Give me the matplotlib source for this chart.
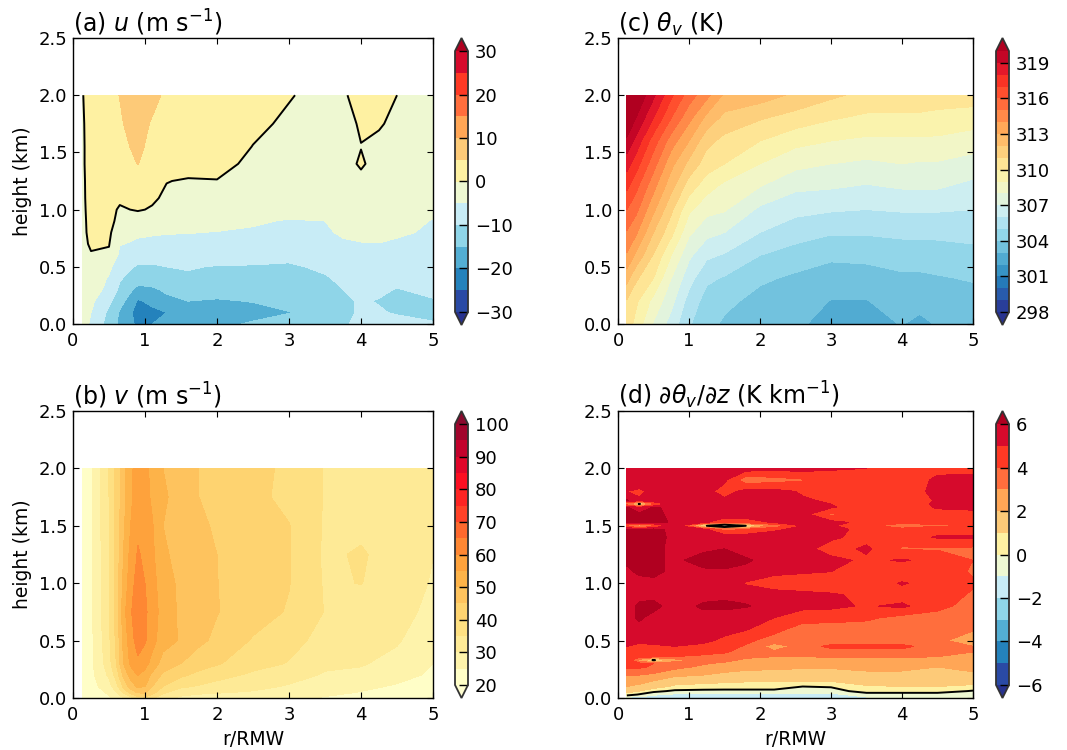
import numpy as np
import matplotlib
matplotlib.use("Agg")
import matplotlib.pyplot as plt
from matplotlib.colors import LinearSegmentedColormap

plt.rcParams.update({
    "font.family": "DejaVu Sans",
    "font.size": 13,
    "axes.linewidth": 1.0,
    "xtick.direction": "in", "ytick.direction": "in",
    "xtick.top": True, "ytick.right": True,
    "xtick.major.size": 4.5, "ytick.major.size": 4.5,
    "xtick.major.pad": 6, "ytick.major.pad": 4,
})

W, H = 1067, 750

# band colours, bottom to top
DIVERGING = ["#2a4aa5", "#2482bc", "#54aed3", "#8fd5e8", "#c8ecf6", "#eef8d2",
             "#fef1a2", "#fdcb78", "#ffa656", "#ff6f3d", "#ff3a24", "#d70a2c"]
SEQUENTIAL = ["#fffec7", "#fef3ab", "#feea96", "#fee082", "#fed370", "#fec35e", "#fdb349", "#fea23c",
              "#fe8733", "#fe6a2e", "#ff4327", "#fe2523", "#fd0f22", "#e2062a", "#c4022c", "#a3042c"]


def band_cmap(name, bands, low, high):
    n = len(bands)
    stops = [(0.0, low)] + [((i + 0.5) / n, c) for i, c in enumerate(bands)] + [(1.0, high)]
    return LinearSegmentedColormap.from_list(name, stops, N=512)


CMAP_DIV = band_cmap("div", DIVERGING, "#27328f", "#b00020")
CMAP_SEQ = band_cmap("seq", SEQUENTIAL, "#fffed0", "#8a0a2e")

# panel a, radial wind
U_R = [0.125, 0.25, 0.5, 0.65, 0.9, 1.1, 1.3, 1.6, 2, 2.5, 3, 3.5, 3.75, 4, 4.25, 4.5, 5]
U_Z = [0, 0.1, 0.2, 0.3, 0.4, 0.5, 0.6, 0.7, 0.8, 0.9, 1, 1.1, 1.25, 1.4, 1.55, 1.75, 2]
U = [
    [-2, -6, -12, -16, -21, -20, -17, -16.5, -16, -14.5, -12.5, -11, -10.5, -9, -8, -8, -9.5],
    [-1, -5, -11, -15.5, -22, -21, -20, -16, -17, -16.5, -15.2, -12.5, -11, -9.5, -9.5, -10.5, -11.5],
    [-1, -4, -9, -13, -20.5, -19, -16.5, -15, -15.5, -14.8, -13, -11.5, -10.8, -9.5, -10.3, -11, -10.5],
    [-1, -2.5, -6.5, -11, -16.5, -16, -14, -13, -13, -12.8, -12, -11, -10, -8.5, -9, -10.3, -8.5],
    [-1, -1.5, -5.5, -9.5, -12.5, -12, -11.5, -10.8, -11, -11.3, -11.5, -10.5, -9, -7.5, -7.5, -8, -7],
    [-0.8, -1, -4, -7.5, -10.7, -10.8, -10, -9.6, -10.3, -10.4, -10.8, -9, -8, -6.5, -6.5, -7, -6],
    [-1, -0.3, -0.6, -6, -7.5, -7.5, -7.5, -7.5, -7.5, -8, -8.5, -7.5, -6.5, -6, -6, -6, -5.5],
    [-1, 0.5, 0.2, -4.8, -5.5, -5.7, -6, -6, -6.3, -6.5, -7, -6.5, -5.5, -5.2, -5.1, -5.5, -6],
    [-1, 1, 0.5, -2, -4.5, -4.7, -4.8, -4.9, -5.1, -5.5, -6, -5.5, -4.5, -4, -4, -4.5, -5.5],
    [-1, 1.2, 1, -1, -2, -2.5, -3, -3.5, -4, -4.5, -5.3, -5, -3.5, -3, -3, -3.5, -5.2],
    [-1, 1.5, 1, -0.4, 0.3, -0.3, -1, -2, -2.5, -3, -3.5, -3.5, -2.5, -2.5, -2.5, -3, -4],
    [-1, 1.8, 1.5, 0.6, 1.5, 0.5, -0.6, -1.2, -1.5, -2, -2.5, -2.5, -2, -2, -2, -2.5, -3.5],
    [-1, 2, 2, 2, 2.5, 1.5, 0.1, -0.3, -0.1, -1.5, -2, -2, -1.5, -1, -1.5, -2, -3],
    [-1, 2.5, 3, 3, 5.1, 3.5, 1.5, 1.5, 1, -0.7, -1.5, -2, -1.5, 0.5, -1.5, -2, -3],
    [-1, 2.5, 3.5, 4, 5.8, 4, 3.5, 3, 2.5, -0.1, -1.2, -1.8, -1.2, -0.1, -1, -1.8, -2.8],
    [-1, 3, 4, 4.5, 7, 4.5, 4, 3.5, 3, 1, -0.8, -1.8, -1.5, 0.5, 0.4, -1, -2.5],
    [-0.5, 3, 4, 5.1, 8, 6.5, 4, 3.5, 3, 2, 0.3, -1.5, -0.5, 1.5, 2, 0, -2],
]
U_LEVELS = list(range(-30, 31, 5))
U_TICKS = list(range(-30, 31, 10))

# panel b, tangential wind
V_R = [0.125, 0.25, 0.35, 0.5, 0.6, 0.7, 0.8, 0.9, 1, 1.1, 1.25, 1.5, 1.75, 2, 2.5, 3, 3.5, 4, 4.5, 5]
V_Z = [0, 0.05, 0.1, 0.2, 0.3, 0.5, 0.75, 1, 1.25, 1.5, 1.75, 2]
V = [
    [20, 21, 22, 24, 27, 30, 33, 38, 39, 36, 32, 29, 28, 27.5, 27, 26, 24.5, 23.5, 23, 22.5],
    [20.5, 22, 23.5, 26, 30, 36, 42, 46, 46, 42, 36, 32, 31, 30.5, 29.5, 28, 26.5, 24.8, 24, 23],
    [21, 23, 25, 28, 33, 41, 47, 51, 50, 45, 40, 36, 34.5, 33, 31.5, 29.5, 27.5, 26, 24.5, 23.5],
    [21, 24, 26, 31, 37, 46, 52, 55.3, 53, 49, 44, 41, 38.5, 37, 34, 32, 29.5, 29, 26.5, 24.3],
    [21, 24, 27, 33, 40, 50, 56, 59, 57, 53, 48, 45, 42.5, 40.5, 37, 34.7, 31, 30.4, 28.5, 25],
    [21, 24, 27.5, 34, 41, 51, 58, 62, 60.5, 57, 52, 49.5, 46, 44, 39.5, 36.5, 33.5, 31.8, 30.5, 26.5],
    [21, 24, 28, 35, 42, 53, 59.5, 63, 61, 57.5, 53, 49, 46.5, 45.2, 42.5, 39.5, 34.8, 33.3, 32, 28.5],
    [21, 24, 28, 35, 42, 51, 58, 62, 60, 57, 52, 49, 46.5, 45.1, 42, 40.2, 34.5, 35.1, 33, 29.5],
    [21, 24, 28, 35, 41.5, 50, 56.5, 60.5, 59, 56, 51, 48, 46, 45, 42, 40.3, 34.2, 35.5, 33, 30.1],
    [21, 24, 28.5, 35, 41.5, 49, 55, 59, 58, 55.5, 50, 47.5, 45.7, 44.5, 41.8, 40.2, 34.5, 34, 33, 32.5],
    [21, 24, 28.5, 35, 41, 48, 54, 57.5, 57, 54, 51, 47.5, 45, 44, 41.5, 38.5, 34.7, 33.5, 33, 32.5],
    [21, 24, 28.7, 35.5, 41, 48.5, 54, 57, 56, 54, 50, 47.5, 45, 44, 41.5, 39, 34.7, 33, 32.5, 32],
]
V_LEVELS = list(range(20, 101, 5))
V_TICKS = list(range(20, 101, 10))

# panel c, virtual potential temperature
T_R = [0.125, 0.25, 0.5, 0.75, 1, 1.25, 1.5, 2, 2.5, 3, 3.5, 4, 4.25, 4.5, 5]
T_Z = [0, 0.2, 0.4, 0.6, 0.8, 1, 1.2, 1.4, 1.6, 1.8, 2]
THETA = [
    [310.6, 309.7, 307.9, 306.6, 305.1, 304.4, 303.8, 303.4, 303.2, 302.6, 302.6, 303.05, 302.7, 303.1, 303.4],
    [310.9, 310.2, 308.7, 307.3, 305.6, 304.6, 304.3, 303.6, 303.4, 302.97, 302.97, 303.35, 303.4, 303.45, 303.55],
    [312.4, 311.2, 310, 308, 306.4, 305.2, 304.9, 304.2, 303.8, 303.5, 303.5, 303.8, 303.8, 303.9, 304.1],
    [313.9, 312.8, 310.9, 309, 307.2, 306.2, 305.9, 305, 304.6, 304.2, 304.3, 304.5, 304.5, 304.6, 304.7],
    [314.9, 314.2, 312, 310.3, 308.2, 307.3, 307, 306, 305.4, 305.1, 305.1, 305.2, 305.2, 305.2, 305.3],
    [316, 315.3, 313.2, 311.2, 309.2, 308.3, 308.1, 306.8, 306.3, 306.1, 306, 306.1, 306.1, 306.1, 306],
    [317.2, 316.3, 314.3, 312.3, 310.5, 309.4, 308.7, 308, 307.2, 307.1, 306.9, 307.1, 307.1, 307.1, 306.7],
    [318.4, 317.5, 315.4, 313.3, 311.7, 310.5, 310, 309, 308.3, 308, 307.8, 308, 307.9, 307.9, 307.6],
    [319.8, 318.7, 316.5, 314.5, 313, 311.3, 310.7, 310, 309.3, 309, 308.8, 308.8, 308.8, 308.8, 308.5],
    [321, 320, 318, 316, 314.3, 312.7, 311.7, 311.1, 310.6, 310.1, 309.8, 309.8, 309.8, 309.7, 309.5],
    [322, 321, 319.2, 317.2, 315.5, 314.3, 312.8, 312.5, 311.8, 311.2, 310.7, 310.6, 310.6, 310.5, 310.5],
]
T_LEVELS = list(range(298, 321))
T_TICKS = list(range(298, 320, 3))

# panel d, vertical gradient of theta_v
D_R = [0.125, 0.3, 0.5, 0.8, 1.2, 1.5, 1.8, 2.2, 2.6, 3, 3.5, 4, 4.5, 5]
D_Z = [0, 0.03, 0.06, 0.1, 0.15, 0.2, 0.27, 0.3, 0.33, 0.36, 0.4, 0.45, 0.5, 0.6, 0.7, 0.8, 0.9, 1, 1.1,
       1.2, 1.3, 1.4, 1.47, 1.5, 1.53, 1.6, 1.66, 1.69, 1.72, 1.8, 1.9, 2]
DTHETA = [
    [-1.5, -1.5, -1.8, -1.5, -1.5, -1.5, -1.5, -1.5, -1.5, -1.5, -1.2, -0.8, -0.8, -0.5],
    [0.5, -0.1, -0.8, -1.2, -1.5, -1.5, -1.5, -1.5, -1.3, -1.3, -0.5, -0.5, -0.5, -0.3],
    [1.5, 1, 0.3, -0.2, -0.3, -0.3, -0.3, -0.3, -0.5, -0.5, 0.5, 0.5, 0.5, -0.1],
    [2, 1.8, 1.5, 0.8, 0.7, 0.6, 0.6, 0.6, 0, 0.1, 0.9, 1, 1, 0.8],
    [2.5, 2.3, 2, 1.5, 1.3, 1.2, 1.1, 1.1, 1.1, 1.1, 1.4, 1.4, 1.4, 1.4],
    [3.1, 3, 2.8, 2.2, 2, 1.8, 1.6, 1.6, 1.6, 1.6, 1.8, 1.9, 1.9, 1.8],
    [4.2, 4.2, 3.8, 3.3, 2.8, 2.4, 2.3, 2.2, 2.1, 2.1, 2.2, 2.1, 2, 2.3],
    [4.5, 4.3, 4, 3.5, 3.1, 2.8, 2.5, 2.4, 2.3, 2.4, 2.7, 2.6, 2.3, 2.4],
    [4.6, 2.5, -0.2, 2.5, 3.4, 3.3, 2.8, 2.6, 2.5, 2.6, 2.8, 2.8, 2.5, 2.4],
    [4.7, 4.6, 4.3, 4, 3.8, 3.6, 3.2, 3, 3, 3.1, 3.1, 3.1, 3, 2.8],
    [4.8, 4.7, 4.6, 4.5, 4.3, 4.1, 3.6, 3.2, 3.2, 3.5, 3.6, 3.6, 3.3, 3],
    [5, 4.9, 4.9, 5, 4.8, 4.4, 3.9, 2.5, 3.4, 4.3, 4.3, 4.3, 3.4, 3],
    [5.2, 5.1, 5.2, 5.4, 5.2, 4.8, 4.2, 3.6, 3.4, 3.3, 3.3, 3.3, 3.2, 2.5],
    [5.5, 5.8, 5.5, 5.7, 5.6, 5.3, 5.1, 4.3, 3.6, 3.5, 3.5, 3.6, 3.4, 3.1],
    [5.8, 6.1, 5.8, 5.9, 5.8, 5.4, 5.2, 5, 4.4, 4.4, 4.2, 3.7, 3.6, 3.3],
    [5.5, 6.2, 6.2, 5.7, 6.1, 6.3, 6.1, 5.5, 5.3, 5.2, 4.9, 5.2, 4.3, 3.6],
    [5.6, 5.7, 5.8, 5.7, 5.8, 5.7, 5.6, 5.3, 5.2, 5.1, 4.8, 4.5, 4.4, 3.9],
    [6, 5.8, 5.9, 5.7, 5.9, 5.7, 4.9, 4.6, 4.5, 4.4, 4.3, 5.1, 4.6, 4.1],
    [5.9, 6.1, 6.1, 5.9, 5.9, 5.9, 5.8, 5.2, 5.1, 5, 4.6, 4.3, 4.5, 3.9],
    [6.1, 6.2, 6.1, 5.9, 6.2, 6.3, 6.1, 5.7, 5.4, 5.3, 4.8, 5.1, 4.7, 4],
    [6.2, 6.3, 6.2, 5.8, 5.9, 6, 5.7, 5.5, 5.4, 4.5, 5.2, 3.9, 3.9, 3.8],
    [6.2, 6.3, 6.3, 5.8, 5.8, 5.7, 5.6, 5.6, 5.4, 5.2, 4.6, 4.5, 5.1, 5.1],
    [6.1, 6.1, 6.2, 5.8, 5.3, 3.6, 4, 4.8, 5.3, 5.3, 4.7, 4.4, 4.6, 4.5],
    [3.5, 2, 3.5, 5.8, 0.4, -2, 0, 3.2, 5, 5.1, 4.4, 3.2, 3.9, 4],
    [6.1, 6.1, 6.2, 5.9, 5.2, 4.3, 4.5, 5.1, 5.5, 5.3, 4.7, 4.3, 4.2, 4.4],
    [6.1, 6.2, 6.2, 5.8, 5.8, 5.6, 5.5, 5.7, 5.4, 3.8, 4.5, 4.4, 4.6, 4.7],
    [6.1, 5.2, 6.1, 5.8, 5.7, 5.4, 5.4, 5.5, 5.3, 5.1, 4.5, 4.4, 5.1, 5.2],
    [3.2, -0.2, 3.5, 5.8, 5.6, 5.3, 5.5, 5.3, 5.2, 5, 4.5, 4.3, 5.2, 5.2],
    [6.1, 5.2, 6, 5.8, 5.6, 5.2, 5.3, 5.2, 5.1, 4.9, 4.4, 4.4, 5.1, 5],
    [5, 4.7, 5.4, 5.5, 5.4, 4.6, 5.3, 5.3, 4.9, 4.9, 4.4, 4.4, 5.3, 5.6],
    [5.9, 6, 5.9, 5.6, 5.6, 5.2, 3.4, 3.6, 3.9, 4.5, 4.7, 4.3, 5.2, 5.4],
    [5.9, 5.9, 5.9, 5.9, 5.7, 5.6, 5.5, 5.3, 5.4, 5.1, 5, 4.7, 4.7, 4.6],
]
D_LEVELS = list(range(-6, 7))
D_TICKS = list(range(-6, 7, 2))

R_TICKS = [0, 1, 2, 3, 4, 5]
Z_TICKS = [0.0, 0.5, 1.0, 1.5, 2.0, 2.5]


def px_axes(left, top, right, bottom):
    return [left / W, 1 - bottom / H, (right - left) / W, (bottom - top) / H]


def draw_panel(fig, box, cbox, r, z, field, levels, ticks, cmap, title, pad, zero_line=False, xlabel=False, ylabel=False):
    ax = fig.add_axes(px_axes(*box))
    cf = ax.contourf(r, z, np.array(field), levels=levels, cmap=cmap, extend="both")
    if zero_line:
        ax.contour(r, z, np.array(field), levels=[0], colors="k", linewidths=1.4)
    ax.set_xlim(0, 5)
    ax.set_ylim(0, 2.5)
    ax.set_xticks(R_TICKS)
    ax.set_yticks(Z_TICKS)
    ax.set_title(title, loc="left", fontsize=17, pad=pad)
    if xlabel:
        ax.set_xlabel("r/RMW", fontsize=13.5, labelpad=4)
    if ylabel:
        ax.set_ylabel("height (km)", fontsize=13.5, labelpad=5)

    cax = fig.add_axes(px_axes(*cbox))
    cb = fig.colorbar(cf, cax=cax, ticks=ticks, extendfrac=0.05)
    cb.outline.set_linewidth(1.3)
    cb.outline.set_edgecolor("#333333")
    cb.ax.tick_params(direction="in", length=6.5, width=1, right=True, left=False, pad=5, labelsize=13)
    return ax


fig = plt.figure(figsize=(W / 100, H / 100), dpi=100)

draw_panel(fig, (73, 38, 433, 324), (455, 38, 468, 325), U_R, U_Z, U, U_LEVELS, U_TICKS, CMAP_DIV,
           r"(a) $u$ (m s$^{-1}$)", 2.5, zero_line=True, ylabel=True)
draw_panel(fig, (73, 411, 433, 698), (455, 411, 468, 698), V_R, V_Z, V, V_LEVELS, V_TICKS, CMAP_SEQ,
           r"(b) $v$ (m s$^{-1}$)", 4.5, xlabel=True, ylabel=True)
draw_panel(fig, (618, 38, 973, 324), (996, 38, 1009, 325), T_R, T_Z, THETA, T_LEVELS, T_TICKS, CMAP_DIV,
           r"(c) $\theta_v$ (K)", 2.5)
draw_panel(fig, (618, 411, 973, 698), (996, 411, 1009, 698), D_R, D_Z, DTHETA, D_LEVELS, D_TICKS, CMAP_DIV,
           r"(d) $\partial\theta_v/\partial z$ (K km$^{-1}$)", 4.5, zero_line=True, xlabel=True)

fig.savefig("out.png", dpi=100)
